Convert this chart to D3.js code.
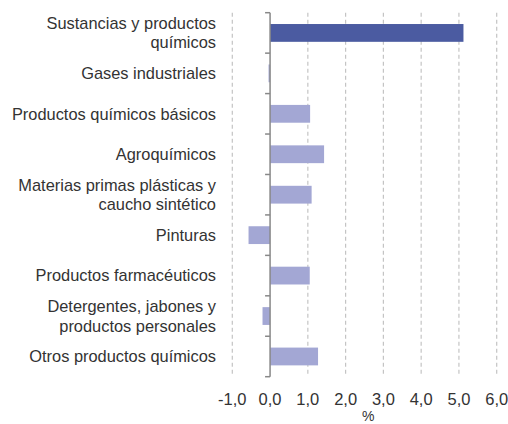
<!DOCTYPE html>
<html><head><meta charset="utf-8">
<script src="https://cdn.jsdelivr.net/npm/d3@7"></script>
<style>body{margin:0;background:#fff;}svg{display:block;font-family:"Liberation Sans",Arial,sans-serif;}</style>
</head><body><svg id="c" width="508" height="424"></svg>
<script>
const categories = [
  ["Sustancias y productos","químicos"],
  ["Gases industriales"],
  ["Productos químicos básicos"],
  ["Agroquímicos"],
  ["Materias primas plásticas y","caucho sintético"],
  ["Pinturas"],
  ["Productos farmacéuticos"],
  ["Detergentes, jabones y","productos personales"],
  ["Otros productos químicos"]
];
const values = [5.12, -0.04, 1.06, 1.43, 1.1, -0.57, 1.05, -0.2, 1.27];
const highlight = [true, false, false, false, false, false, false, false, false];
const xTicks = [-1, 0, 1, 2, 3, 4, 5, 6];
const xTickLabels = ["-1,0","0,0","1,0","2,0","3,0","4,0","5,0","6,0"];
const xTitle = "%";

const svg = d3.select("#c");
const x = d3.scaleLinear().domain([-1, 6]).range([232.3, 496.7]);
const y = d3.scaleBand().domain(d3.range(categories.length)).range([12.7, 376.7]).paddingInner(0.56).paddingOuter(0.28);

// gridlines
svg.append("g").selectAll("line").data(xTicks.filter(t => t !== 0)).join("line")
  .attr("x1", d => x(d)).attr("x2", d => x(d))
  .attr("y1", 12.7).attr("y2", 376.7)
  .attr("stroke", "#c4c4c4").attr("stroke-width", 1.2).attr("stroke-dasharray", "4,3");

// bars
svg.append("g").selectAll("rect").data(values).join("rect")
  .attr("x", d => x(Math.min(0, d)))
  .attr("width", d => Math.abs(x(d) - x(0)))
  .attr("y", (d, i) => y(i))
  .attr("height", y.bandwidth())
  .attr("fill", (d, i) => highlight[i] ? "#4b5ba1" : "#a3a7d4");

// axis line at zero with ticks
const ax = svg.append("g");
ax.append("line").attr("x1", x(0)).attr("x2", x(0)).attr("y1", 12.7).attr("y2", 376.7)
  .attr("stroke", "#888").attr("stroke-width", 1.5);
ax.selectAll("line.t").data(d3.range(categories.length + 1)).join("line").attr("class","t")
  .attr("x1", x(0) - 5).attr("x2", x(0))
  .attr("y1", i => 12.7 + i * (364 / categories.length))
  .attr("y2", i => 12.7 + i * (364 / categories.length))
  .attr("stroke", "#888").attr("stroke-width", 1.5);

// category labels
const lab = svg.append("g").attr("font-size", 16.4).attr("fill", "#333").attr("text-anchor", "end");
categories.forEach((lines, i) => {
  const cy = 12.7 + (i + 0.5) * (364 / categories.length);
  const lh = 19.5;
  const t = lab.append("text").attr("x", 216).attr("y", cy - (lines.length - 1) * lh / 2);
  lines.forEach((l, j) => t.append("tspan").attr("x", 216).attr("dy", j === 0 ? "0.35em" : lh).text(l));
});

// x tick labels
svg.append("g").attr("font-size", 16.5).attr("fill", "#333").attr("text-anchor", "middle")
  .selectAll("text").data(xTicks).join("text")
  .attr("x", d => x(d)).attr("y", 405).text((d, i) => xTickLabels[i]);

svg.append("text").attr("x", x(2.6)).attr("y", 421).attr("text-anchor", "middle")
  .attr("font-size", 14).attr("fill", "#333").text(xTitle);
</script></body></html>
